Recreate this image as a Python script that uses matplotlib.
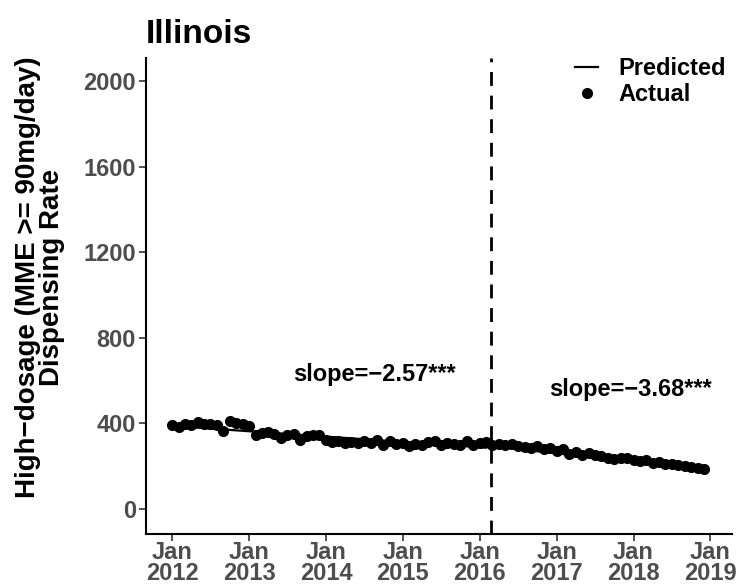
import numpy as np
import matplotlib.pyplot as plt

plt.rcParams['font.family'] = ['Liberation Sans', 'DejaVu Sans']

# monthly dispensing rate, Jan 2012 - Dec 2018
months = np.arange('2012-01', '2019-01', dtype='datetime64[M]').astype('datetime64[D]')
actual = [390, 382, 395, 392, 408, 398, 396, 392, 366, 412, 400, 396,
          388, 345, 355, 358, 350, 332, 345, 350, 322, 340, 344, 345,
          322, 312, 316, 310, 314, 308, 318, 310, 322, 300, 318, 302,
          310, 294, 305, 300, 312, 318, 300, 310, 305, 300, 318, 300,
          308, 312, 300, 305, 300, 302, 296, 290, 286, 296, 282, 285,
          272, 278, 258, 268, 252, 262, 250, 245, 238, 232, 236, 240,
          228, 225, 230, 216, 220, 212, 210, 206, 200, 196, 192, 188]

# fitted segments (start, end)
pre_dates = np.array(['2012-01-01', '2016-02-01'], dtype='datetime64[D]')
pre_pred = [388, 286]
post_dates = np.array(['2016-03-01', '2018-12-01'], dtype='datetime64[D]')
post_pred = [292, 186]

cut_date = np.datetime64('2016-02-25')
years = np.arange(2012, 2020)
tick_dates = np.array([f'{y}-01-01' for y in years], dtype='datetime64[D]')
tick_labels = [f'Jan\n{y}' for y in years]

fig = plt.figure(figsize=(7.36, 5.88), dpi=100)
ax = fig.add_axes([0.198, 0.092, 0.797, 0.809])

ax.plot(pre_dates, pre_pred, color='black', lw=1.6, label='Predicted')
ax.plot(post_dates, post_pred, color='black', lw=1.6)
ax.plot(months, actual, 'o', color='black', ms=7, label='Actual')
ax.axvline(cut_date, color='black', lw=2, linestyle=(0, (5, 3.5)))

ax.text(np.datetime64('2014-08-20'), 626, 'slope=\u22122.57***', ha='center', va='center',
        fontsize=17, fontweight='bold')
ax.text(np.datetime64('2017-12-15'), 556, 'slope=\u22123.68***', ha='center', va='center',
        fontsize=17, fontweight='bold')

ax.set_xlim(np.datetime64('2011-08-29'), np.datetime64('2019-04-15'))
ax.set_ylim(-117, 2107)
ax.set_xticks(tick_dates)
ax.set_xticklabels(tick_labels)
ax.set_yticks([0, 400, 800, 1200, 1600, 2000])

for s in ['top', 'right']:
    ax.spines[s].set_visible(False)
for s in ['left', 'bottom']:
    ax.spines[s].set_linewidth(1.5)
ax.tick_params(axis='both', length=5, width=1.2, color='#333333',
               labelcolor='#4D4D4D', labelsize=17)
for lab in ax.get_xticklabels() + ax.get_yticklabels():
    lab.set_fontweight('bold')
for lab in ax.get_xticklabels():
    lab.set_linespacing(0.9)
ax.tick_params(axis='x', pad=0)
ax.tick_params(axis='y', pad=2)

fig.text(40 / 736, 1 - 277 / 588, 'High\u2212dosage (MME >= 90mg/day)\nDispensing Rate',
         rotation=90, ha='center', va='center', fontsize=20, fontweight='bold',
         linespacing=0.9, multialignment='center')
ax.set_title('Illinois', loc='left', fontsize=24, fontweight='bold', pad=11)

ax.legend(loc='upper right', frameon=False, prop={'weight': 'bold', 'size': 17},
          handlelength=1.0, handletextpad=0.85, labelspacing=0.12,
          borderaxespad=0, borderpad=0,
          bbox_to_anchor=(726 / 736, 1 - 57 / 588), bbox_transform=fig.transFigure)

fig.savefig('out.png', dpi=100)
